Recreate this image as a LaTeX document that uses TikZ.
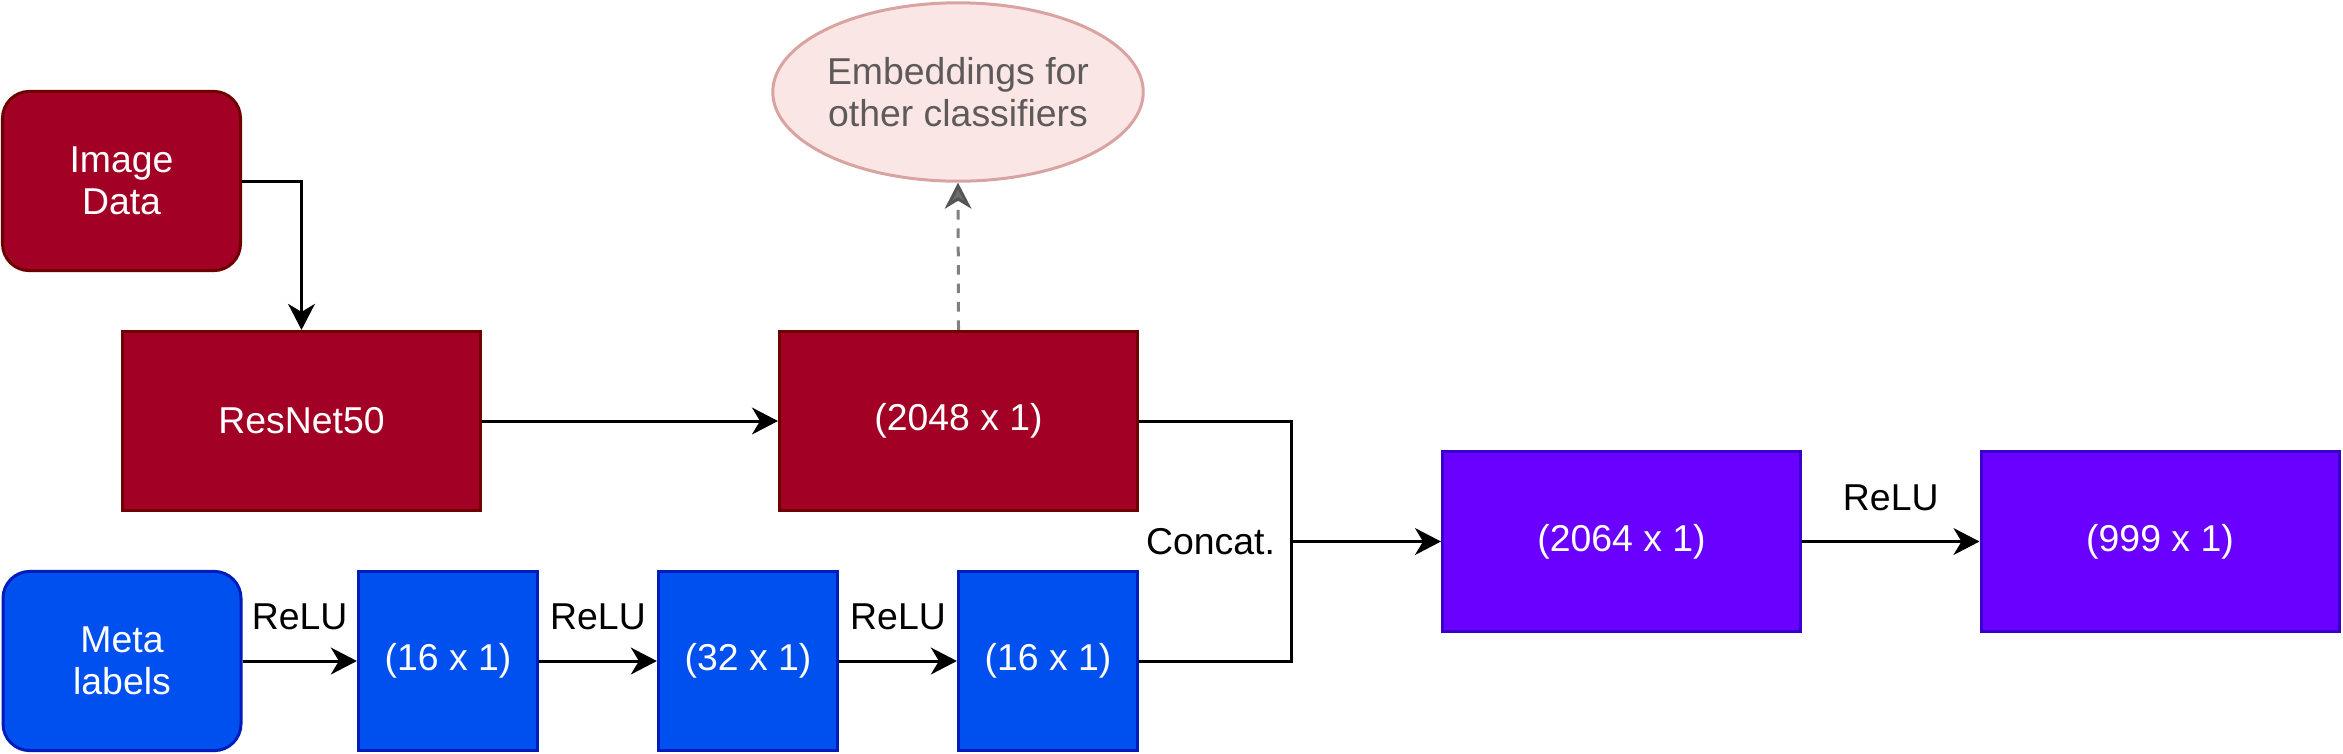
\documentclass[tikz,border=0pt]{standalone}
\usepackage{fontspec}
\setmainfont{Liberation Sans}
\usetikzlibrary{arrows.meta,shapes.geometric}
\definecolor{redF}{HTML}{A20025}
\definecolor{redD}{HTML}{6F0000}
\definecolor{blueF}{HTML}{0050EF}
\definecolor{blueD}{HTML}{001DBC}
\definecolor{purF}{HTML}{6A00FF}
\definecolor{purD}{HTML}{3700CC}
\definecolor{pinkF}{HTML}{FBE6E6}
\definecolor{pinkD}{HTML}{D8A3A1}
\definecolor{grayT}{HTML}{5E5A5A}
\definecolor{grayA}{HTML}{808080}
\definecolor{grayB}{HTML}{555555}
\definecolor{grayC}{HTML}{6E6E6E}
\begin{document}
\begin{tikzpicture}[x=0.25pt,y=-0.25pt,
  every node/.style={font=\fontsize{9.35pt}{10.6pt}\selectfont},
  box/.style={draw, line width=0.75pt, inner sep=0pt, align=center, text=white},
  redbox/.style={box, fill=redF, draw=redD, minimum width=89.5pt, minimum height=44.8pt},
  bluebox/.style={box, fill=blueF, draw=blueD, minimum width=44.8pt, minimum height=44.8pt},
  purbox/.style={box, fill=purF, draw=purD, minimum width=89.5pt, minimum height=44.8pt},
  inbox/.style={box, rounded corners=6.7pt, minimum width=59.5pt, minimum height=44.8pt},
  arr/.style={draw=black, line width=0.75pt, -{Stealth[length=6.5pt, width=6.7pt, inset=2pt]}},
  plain/.style={draw=black, line width=0.75pt},
  dasharr/.style={draw=grayA, line width=0.75pt, dash pattern=on 2.4pt off 2.2pt,
    -{Stealth[length=6.5pt, width=6.7pt, inset=2pt, fill=grayC, color=grayB]}},
  lbl/.style={midway, yshift=11pt, text=black}
]
\useasboundingbox (0,0) rectangle (2343,753);

\node[inbox, fill=redF, draw=redD] (imgd) at (121.5,181) {Image\\Data};
\node[redbox] (resnet) at (301.5,421) {ResNet50};
\node[redbox] (f2048) at (958.5,421) {(2048 x 1)};
\node[ellipse, draw=pinkD, fill=pinkF, line width=0.75pt, text=grayT, align=center,
      minimum width=89.5pt, minimum height=44.6pt, inner sep=0pt] (emb) at (958,92)
      {Embeddings for\\other classifiers};

\node[inbox, fill=blueF, draw=blueD] (meta) at (122,661) {Meta\\labels};
\node[bluebox] (m16) at (448,661) {(16 x 1)};
\node[bluebox] (m32) at (748,661) {(32 x 1)};
\node[bluebox] (m16b) at (1048,661) {(16 x 1)};

\node[purbox] (c2064) at (1621.5,541.5) {(2064 x 1)};
\node[purbox] (c999) at (2160,541.5) {(999 x 1)};

\coordinate (j) at (1291,541.5);

\draw[arr] (imgd.east) -| (resnet.north);
\draw[arr] (resnet.east) -- (f2048.west);
\draw[dasharr] (f2048.north) -- (emb.south);

\draw[arr] (meta.east) -- node[lbl] (r1) {ReLU} (m16.west);
\draw[arr] (m16.east) -- node[lbl] (r2) {ReLU} (m32.west);
\draw[arr] (m32.east) -- node[lbl] (r3) {ReLU} (m16b.west);

\draw[plain] (f2048.east) -| (j);
\draw[plain] (m16b.east) -| (j);
\draw[arr] (j) -- (c2064.west);
\node[anchor=east, text=black, inner sep=0pt] (concat) at ([xshift=-3.8pt]j) {Concat.};

\draw[arr] (c2064.east) -- node[lbl] (r4) {ReLU} (c999.west);
\end{tikzpicture}
\end{document}
